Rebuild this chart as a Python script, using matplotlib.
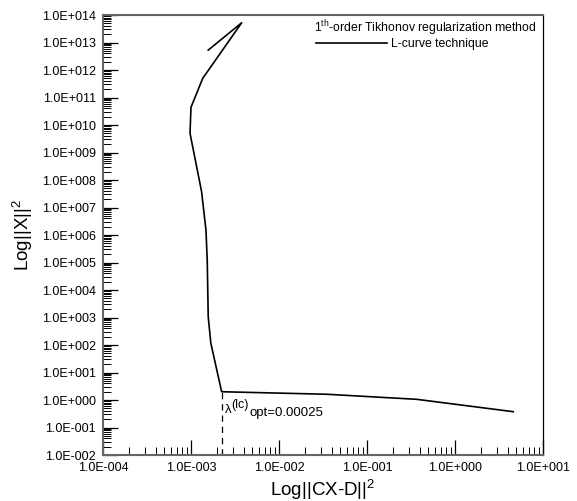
import numpy as np
import matplotlib
matplotlib.use('Agg')
import matplotlib.pyplot as plt
from matplotlib.ticker import LogLocator, FuncFormatter, NullFormatter

plt.rcParams['font.family'] = ['Liberation Sans', 'DejaVu Sans']
plt.rcParams['mathtext.fontset'] = 'custom'
plt.rcParams['mathtext.rm'] = 'Liberation Sans'
plt.rcParams['mathtext.it'] = 'Liberation Sans:italic'

# L-curve points
residual_norm = [1.57e-3, 3.77e-3, 1.36e-3, 1.0e-3, 0.975e-3, 1.32e-3, 1.48e-3,
                 1.53e-3, 1.57e-3, 1.68e-3, 2.23e-3, 3.48e-2, 0.367, 4.6]
solution_norm = [5.3e12, 5.25e13, 5.0e11, 4.4e10, 5.0e9, 3.76e7, 1.5e6,
                 1.2e5, 1.07e3, 1.18e2, 2.0, 1.62, 1.06, 0.376]

# corner of the L-curve
corner_x = 2.23e-3
corner_y = 2.0
lambda_opt = '0.00025'


def sci_fmt(v, pos):
    e = int(round(np.log10(v)))
    return f'1.0E{e:+04d}'


fig = plt.figure(figsize=(5.77, 5.01), dpi=100)
ax = fig.add_axes([0.1785, 0.0918, 0.7625, 0.8782])

ax.plot(residual_norm, solution_norm, color='black', lw=1.2, label='L-curve technique')
ax.plot([corner_x, corner_x], [1e-2, corner_y], color='black', lw=0.9, ls=(0, (5, 4)))

# lambda label: λ, raised (lc), lowered opt=...
t1 = ax.text(2.42e-3, 0.43, 'λ', fontsize=9.5, va='center', ha='left')
t2 = ax.annotate('(lc)', xy=(1, 0.5), xycoords=t1, xytext=(0, 4), textcoords='offset points',
                 va='center', ha='left', fontsize=9)
t3 = ax.annotate('opt=' + lambda_opt, xy=(1, 0.5), xycoords=t2, xytext=(0.3, -6), textcoords='offset points',
                 va='center', ha='left', fontsize=9.5)

ax.set_xscale('log')
ax.set_yscale('log')
ax.set_xlim(1e-4, 1e1)
ax.set_ylim(1e-2, 1e14)

ax.xaxis.set_major_locator(LogLocator(base=10, numticks=20))
ax.yaxis.set_major_locator(LogLocator(base=10, numticks=40))
ax.xaxis.set_minor_locator(LogLocator(base=10, subs=np.arange(2, 10), numticks=40))
ax.yaxis.set_minor_locator(LogLocator(base=10, subs=np.arange(2, 10), numticks=60))
ax.xaxis.set_major_formatter(FuncFormatter(sci_fmt))
ax.yaxis.set_major_formatter(FuncFormatter(sci_fmt))
ax.xaxis.set_minor_formatter(NullFormatter())
ax.yaxis.set_minor_formatter(NullFormatter())

ax.tick_params(which='both', direction='in', top=False, right=False, labelsize=9, color='black')
ax.tick_params(which='major', length=11, width=0.9, pad=5)
ax.tick_params(which='minor', length=6, width=0.7)

for side in ['top', 'bottom', 'left']:
    ax.spines[side].set_color('#666666')
    ax.spines[side].set_linewidth(1.5)
ax.spines['right'].set_color('black')
ax.spines['right'].set_linewidth(0.9)

ax.set_xlabel(r'Log||CX-D||$^{2}$', fontsize=13.5, labelpad=3)
ax.set_ylabel(r'Log||X||$^{2}$', fontsize=13.5, labelpad=5)

# legend: heading line plus the curve entry
ax.text(0.986, 0.9705, r'1$^{\mathrm{th}}$-order Tikhonov regularization method',
        transform=ax.transAxes, ha='right', va='center', fontsize=8.8)
leg = ax.legend(loc='center left', bbox_to_anchor=(0.484, 0.934), frameon=False,
                fontsize=8.8, handlelength=5.8, handletextpad=0.33,
                borderpad=0, borderaxespad=0)

fig.savefig('out.png', dpi=100)
